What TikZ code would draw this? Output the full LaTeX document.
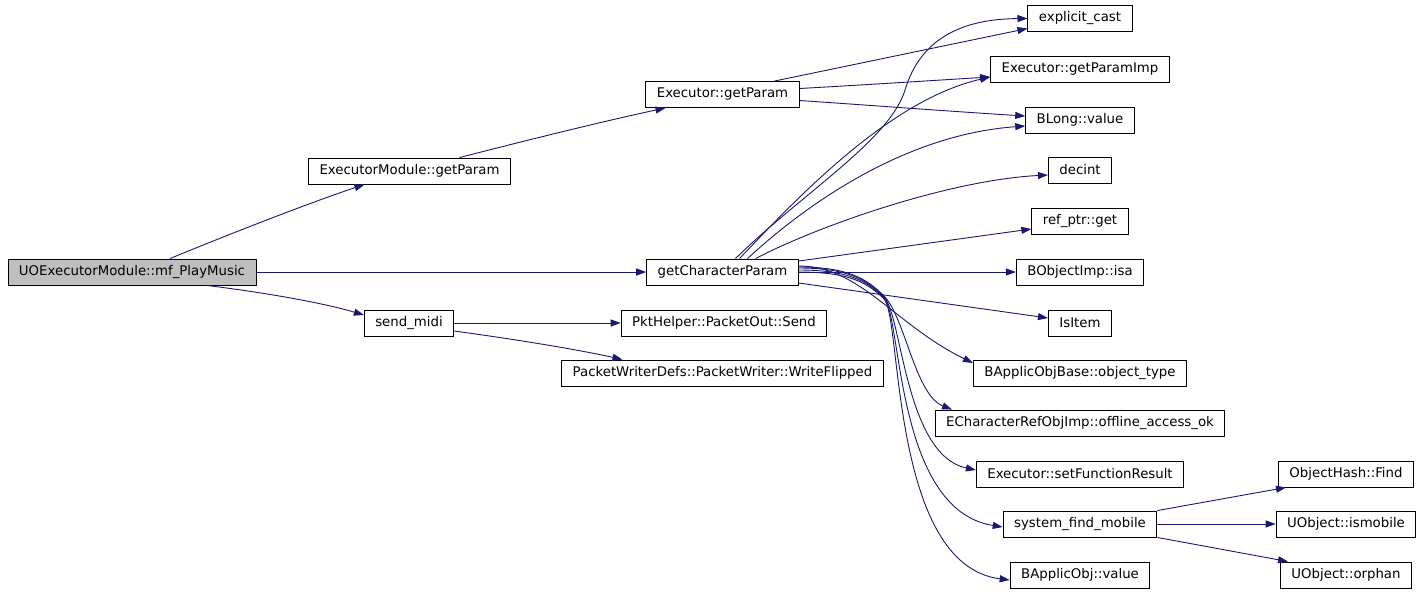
\documentclass[tikz,border=0pt]{standalone}
\usepackage{fontspec}
\setmainfont{DejaVu Sans}
\usetikzlibrary{arrows.meta}
\definecolor{callblue}{HTML}{191970}
\definecolor{rootgray}{HTML}{BFBFBF}

\begin{document}
\begin{tikzpicture}[x=1pt, y=-1pt,
    fn/.style={draw=black, line width=0.9pt, fill=white, minimum height=26pt,
        inner xsep=11pt, inner ysep=0pt, font=\fontsize{13.3}{16}\selectfont},
    call/.style={draw=callblue, line width=0.9pt, -{Triangle[length=10pt,width=7pt]}}]
    % Page
    \fill[white] (0,0) rectangle (1421,595);
    \useasboundingbox (0,0) rectangle (1421,595);

    % Caller and first level
    \node[fn, fill=rootgray] (mfplay) at (132,272) {UOExecutorModule::mf\_PlayMusic};
    \node[fn] (modgetparam) at (409.5,171) {ExecutorModule::getParam};
    \node[fn] (getchar) at (722.5,272) {getCharacterParam};
    \node[fn] (sendmidi) at (409,323) {send\_midi};

    % Second level
    \node[fn] (getparam) at (722.5,94.5) {Executor::getParam};
    \node[fn] (pktsend) at (724,323) {PktHelper::PacketOut::Send};
    \node[fn] (writeflipped) at (722.5,373) {PacketWriterDefs::PacketWriter::WriteFlipped};

    % Callees of getParam and getCharacterParam
    \node[fn] (explicitcast) at (1080,18.5) {explicit\_cast};
    \node[fn] (getparamimp) at (1080,69) {Executor::getParamImp};
    \node[fn] (blongvalue) at (1080,120) {BLong::value};
    \node[fn] (decint) at (1080,170) {decint};
    \node[fn] (refptrget) at (1080,221) {ref\_ptr::get};
    \node[fn] (isa) at (1080,272) {BObjectImp::isa};
    \node[fn] (isitem) at (1080,323) {IsItem};
    \node[fn] (objecttype) at (1080,373) {BApplicObjBase::object\_type};
    \node[fn] (offlineok) at (1080,423) {ECharacterRefObjImp::offline\_access\_ok};
    \node[fn] (setresult) at (1080,474) {Executor::setFunctionResult};
    \node[fn] (findmobile) at (1080,524) {system\_find\_mobile};
    \node[fn] (applicvalue) at (1080,575) {BApplicObj::value};

    % Callees of system_find_mobile
    \node[fn] (hashfind) at (1346,474) {ObjectHash::Find};
    \node[fn] (ismobile) at (1346,524) {UObject::ismobile};
    \node[fn] (orphan) at (1346,575) {UObject::orphan};

    % Calls from mf_PlayMusic
    \draw[call] ([xshift=38]mfplay.north) .. controls (205,244) and (300,206) .. ([xshift=-45]modgetparam.south);
    \draw[call] (mfplay.east) -- (getchar.west);
    \draw[call] ([xshift=75]mfplay.south) .. controls (260,292) and (320,302) .. ([yshift=8]sendmidi.west);
    \draw[call] ([xshift=50]modgetparam.north) .. controls (520,142) and (600,122) .. ([xshift=-57]getparam.south);

    % Calls from send_midi
    \draw[call] (sendmidi.east) -- (pktsend.west);
    \draw[call] ([yshift=-8]sendmidi.east) .. controls (520,340) and (580,350) .. ([xshift=-100]writeflipped.north);

    % Calls from Executor::getParam
    \draw[call] ([xshift=52]getparam.north) -- ([yshift=-10]explicitcast.west);
    \draw[call] ([yshift=6]getparam.east) .. controls (880,84) and (940,80) .. ([yshift=-8]getparamimp.west);
    \draw[call] ([yshift=-6]getparam.east) .. controls (880,106) and (960,112) .. ([yshift=4]blongvalue.west);

    % Calls from getCharacterParam, upwards
    \draw[call] ([xshift=13]getchar.north) .. controls (800,195) and (890,140) .. (905,90)
        .. controls (920,40) and (960,19) .. (explicitcast.west);
    \draw[call] ([xshift=17]getchar.north) .. controls (800,195) and (890,100) .. ([yshift=-8]getparamimp.west);
    \draw[call] ([xshift=25]getchar.north) .. controls (800,210) and (900,135) .. ([yshift=-6]blongvalue.west);
    \draw[call] ([xshift=33]getchar.north) .. controls (820,225) and (950,180) .. ([yshift=-5]decint.west);
    \draw[call] ([yshift=11]getchar.east) -- ([yshift=-8]refptrget.west);
    \draw[call] (getchar.east) -- (isa.west);
    \draw[call] ([yshift=-11]getchar.east) -- ([yshift=5]isitem.west);

    % Calls from getCharacterParam, downwards (bundled near x=884)
    \draw[call] ([yshift=6]getchar.east) .. controls (860,266) and (895,325) .. ([yshift=10]objecttype.west);
    \draw[call] ([yshift=5]getchar.east) .. controls (850,267) and (868,280) .. (884,296)
        .. controls (905,317) and (915,395) .. ([xshift=-128]offlineok.north);
    \draw[call] ([yshift=4]getchar.east) .. controls (850,268) and (868,281) .. (884,297)
        .. controls (902,315) and (905,455) .. ([yshift=4]setresult.west);
    \draw[call] ([yshift=2]getchar.east) .. controls (850,270) and (868,282) .. (884,298)
        .. controls (902,316) and (895,510) .. ([yshift=-3]findmobile.west);
    \draw[call] ([yshift=0]getchar.east) .. controls (850,272) and (868,283) .. (884,299)
        .. controls (902,317) and (890,565) .. ([yshift=-5]applicvalue.west);

    % Calls from system_find_mobile
    \draw[call] (findmobile.north east) -- ([xshift=8]hashfind.south west);
    \draw[call] (findmobile.east) -- (ismobile.west);
    \draw[call] (findmobile.south east) -- ([xshift=8]orphan.north west);
\end{tikzpicture}
\end{document}
